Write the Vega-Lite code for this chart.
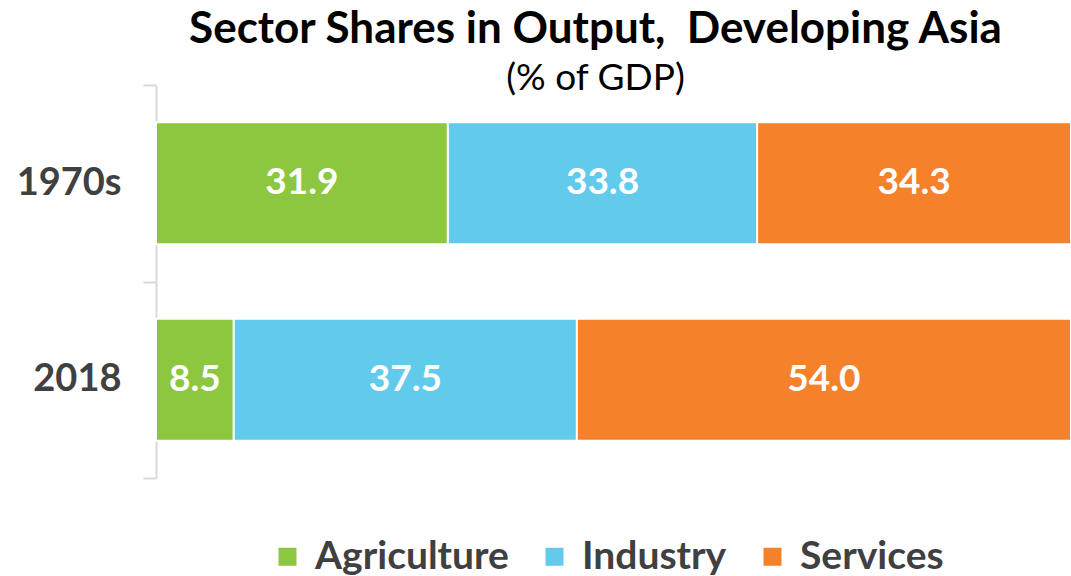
{
  "$schema": "https://vega.github.io/schema/vega-lite/v6.json",
  "width": 915,
  "height": 393,
  "autosize": "none",
  "padding": {"left": 156, "top": 85, "right": 0, "bottom": 98},
  "background": "white",
  "config": {"view": {"stroke": null}, "font": "Lato"},
  "title": {
    "text": "Sector Shares in Output,\u00a0 Developing Asia",
    "subtitle": "(% of GDP)",
    "fontSize": 44,
    "fontWeight": "bold",
    "color": "black",
    "subtitleFontSize": 37,
    "subtitleColor": "black",
    "subtitleFontWeight": "normal",
    "anchor": "middle",
    "offset": -31,
    "dx": -18,
    "subtitlePadding": 9
  },
  "data": {
    "values": [
      {"period": "1970s", "sector": "Agriculture", "value": 31.9},
      {"period": "1970s", "sector": "Industry", "value": 33.8},
      {"period": "1970s", "sector": "Services", "value": 34.3},
      {"period": "2018", "sector": "Agriculture", "value": 8.5},
      {"period": "2018", "sector": "Industry", "value": 37.5},
      {"period": "2018", "sector": "Services", "value": 54.0}
    ]
  },
  "transform": [
    {"stack": "value", "groupby": ["period"], "sort": [{"field": "sector", "order": "ascending"}], "as": ["x0", "x1"]},
    {"calculate": "(datum.x0 + datum.x1) / 2", "as": "mid"}
  ],
  "encoding": {
    "y": {
      "field": "period",
      "type": "nominal",
      "sort": ["1970s", "2018"],
      "title": null,
      "scale": {"paddingInner": 0, "paddingOuter": 0},
      "axis": {
        "domainColor": "#D9D9D9",
        "domainWidth": 2,
        "ticks": true,
        "tickBand": "extent",
        "tickColor": "#D9D9D9",
        "tickWidth": 2,
        "tickSize": 13,
        "labelFontSize": 38,
        "labelFontWeight": "bold",
        "labelColor": "#404040",
        "labelPadding": 22,
        "grid": false
      }
    }
  },
  "layer": [
    {
      "mark": {"type": "bar", "stroke": "white", "strokeWidth": 2, "height": {"band": 0.62}},
      "encoding": {
        "x": {"field": "x0", "type": "quantitative", "scale": {"domain": [0, 100]}, "axis": null},
        "x2": {"field": "x1"},
        "color": {
          "field": "sector",
          "type": "nominal",
          "scale": {"domain": ["Agriculture", "Industry", "Services"], "range": ["#8DC63F", "#62CBEC", "#F5812B"]},
          "legend": {
            "orient": "none",
            "legendX": 112,
            "legendY": 452,
            "direction": "horizontal",
            "title": null,
            "symbolType": "square",
            "symbolSize": 324,
            "symbolStrokeWidth": 0,
            "labelFontSize": 39,
            "labelFontWeight": "bold",
            "labelColor": "#404040",
            "labelOffset": 8,
            "labelLimit": 0,
            "columnPadding": 26,
            "padding": 0
          }
        }
      }
    },
    {
      "mark": {"type": "text", "color": "white", "fontSize": 37, "fontWeight": "bold", "baseline": "middle", "align": "center"},
      "encoding": {
        "x": {"field": "mid", "type": "quantitative"},
        "text": {"field": "value", "type": "quantitative", "format": ".1f"}
      }
    }
  ]
}
